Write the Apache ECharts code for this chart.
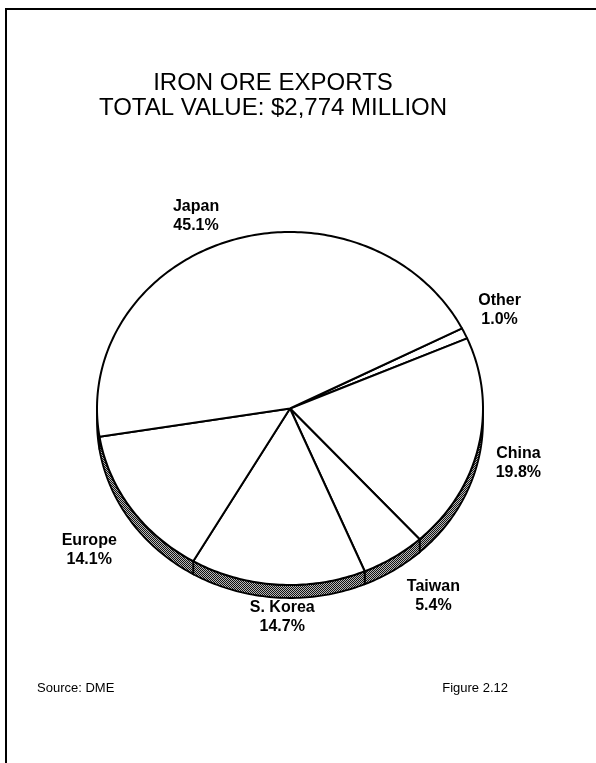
<!DOCTYPE html>
<html>
<head>
<meta charset="utf-8">
<script src="https://cdn.jsdelivr.net/npm/echarts@6/dist/echarts.min.js"></script>
<style>
html, body { margin: 0; padding: 0; background: #fff; }
#ironOreChart { width: 596px; height: 763px; }
</style>
</head>
<body>
<div id="ironOreChart"></div>
<script>
// slices in clockwise order, starting just above 3 o'clock
const categories = ['Other', 'China', 'Taiwan', 'S. Korea', 'Europe', 'Japan']
const shares = [1.0, 19.8, 5.4, 14.7, 14.1, 45.1]
const titleLines = ['IRON ORE EXPORTS', 'TOTAL VALUE: $2,774 MILLION']
const sourceNote = 'Source: DME'
const figureNote = 'Figure 2.12'

// tilted pie layout
const pie = { cx: 290, cy: 408.5, rx: 193, ry: 176.5, depth: 13, startDeg: 27 }
const labelNudge = [[0, -8], [2, 10], [19, 9], [7, -3], [-10, 21], [-22, 9]]
const labelFont = 'bold 16px "Liberation Sans", Arial, sans-serif'

const total = shares.reduce((a, b) => a + b, 0)
const startAngles = []
let acc = 0
shares.forEach(v => {
  startAngles.push(pie.startDeg - acc / total * 360)
  acc += v
})

function rimPoint (deg, dy) {
  const r = deg * Math.PI / 180
  return [pie.cx + pie.rx * Math.cos(r), pie.cy - pie.ry * Math.sin(r) + (dy || 0)]
}

// walks clockwise from 'from' down to 'to' (degrees)
function arcPoints (from, to, dy) {
  const pts = []
  const n = Math.max(2, Math.ceil(from - to))
  for (let k = 0; k <= n; k++) {
    pts.push(rimPoint(from - (from - to) * k / n, dy))
  }
  return pts
}

// dithered fill for the rim, like the printed screen
const dither = document.createElement('canvas')
dither.width = 2
dither.height = 2
const dctx = dither.getContext('2d')
dctx.fillStyle = '#b8b8b8'
dctx.fillRect(0, 0, 2, 2)
dctx.fillStyle = '#111111'
dctx.fillRect(0, 0, 1, 1)
dctx.fillRect(1, 1, 1, 1)

function renderSlice (params, api) {
  const i = params.dataIndex
  const value = api.value(0)
  const a1 = startAngles[i]
  const a2 = a1 - value / total * 360
  const children = []

  // side of the pie, only the front half is seen
  const hi = Math.min(a1, 0)
  const lo = Math.max(a2, -180)
  if (hi > lo) {
    const top = arcPoints(hi, lo, 0)
    const bottom = arcPoints(hi, lo, pie.depth).reverse()
    children.push({
      type: 'polygon',
      shape: { points: top.concat(bottom) },
      style: { fill: { image: dither, repeat: 'repeat' }, stroke: '#000', lineWidth: 1.8 }
    })
  }

  // top face
  children.push({
    type: 'polygon',
    shape: { points: [[pie.cx, pie.cy]].concat(arcPoints(a1, a2, 0)) },
    style: { fill: '#fff', stroke: '#000', lineWidth: 2, lineJoin: 'round' }
  })

  const mid = (a1 + a2) / 2 * Math.PI / 180
  children.push({
    type: 'text',
    x: pie.cx + pie.rx * 1.2 * Math.cos(mid) + labelNudge[i][0],
    y: pie.cy - pie.ry * 1.2 * Math.sin(mid) + labelNudge[i][1],
    style: {
      text: categories[i] + '\n' + value.toFixed(1) + '%',
      font: labelFont,
      fill: '#000',
      align: 'center',
      verticalAlign: 'middle',
      lineHeight: 19
    }
  })
  return { type: 'group', children: children }
}

const chartDom = document.getElementById('ironOreChart')
const myChart = echarts.init(chartDom, null, { renderer: 'canvas' })
const option = {
  backgroundColor: '#fff',
  animation: false,
  title: [
    {
      text: titleLines.join('\n'),
      left: 268,
      top: 66,
      textAlign: 'center',
      textStyle: {
        fontFamily: '"Liberation Sans", Arial, sans-serif',
        fontSize: 24,
        fontWeight: 'normal',
        lineHeight: 25,
        color: '#000'
      }
    },
    {
      text: sourceNote,
      left: 32,
      top: 677,
      textStyle: { fontFamily: '"Liberation Sans", Arial, sans-serif', fontSize: 13, fontWeight: 'normal', color: '#000' }
    },
    {
      text: figureNote,
      right: 83,
      top: 677,
      textStyle: { fontFamily: '"Liberation Sans", Arial, sans-serif', fontSize: 13, fontWeight: 'normal', color: '#000' }
    }
  ],
  graphic: [
    { type: 'line', shape: { x1: 5, y1: 9, x2: 596, y2: 9 }, style: { stroke: '#000', lineWidth: 2 } },
    { type: 'line', shape: { x1: 6, y1: 8, x2: 6, y2: 763 }, style: { stroke: '#000', lineWidth: 2 } }
  ],
  series: [
    {
      type: 'custom',
      coordinateSystem: 'none',
      renderItem: renderSlice,
      data: shares.map((v, i) => ({ name: categories[i], value: [v] }))
    }
  ]
}
myChart.setOption(option)
</script>
</body>
</html>
